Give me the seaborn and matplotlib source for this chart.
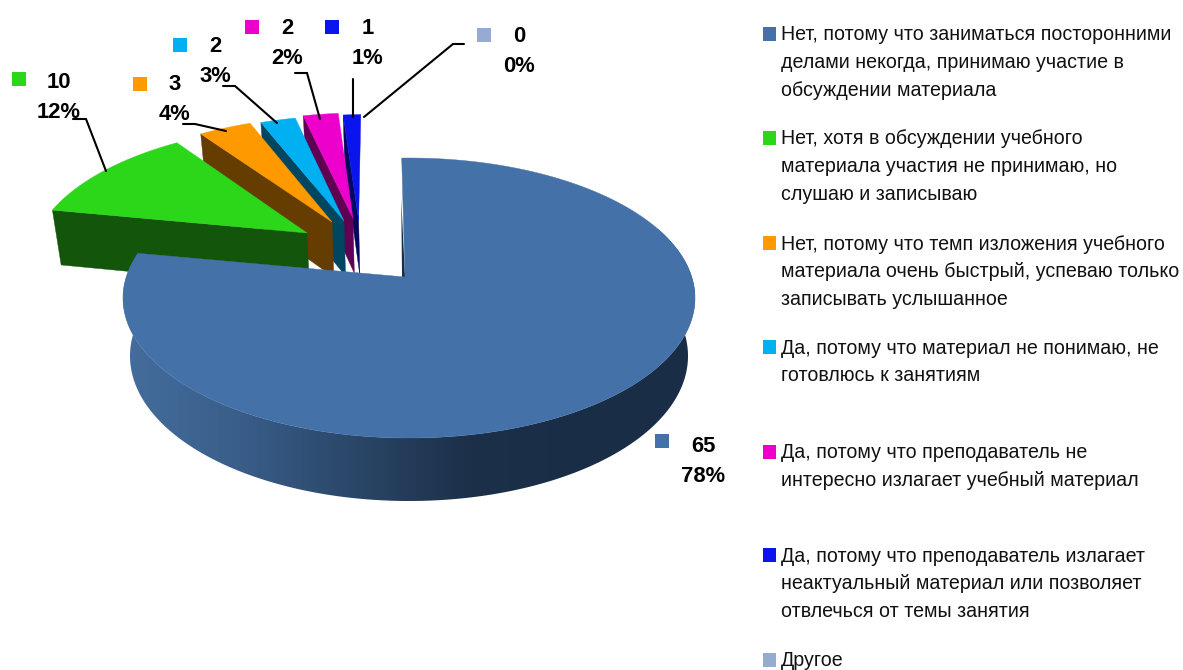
import numpy as np
import pandas as pd
import matplotlib
matplotlib.use("Agg")
import matplotlib.pyplot as plt
from matplotlib.patches import Polygon
import seaborn as sns

# ---- data
values = [65, 10, 3, 2, 2, 1, 0]
percent_labels = ["78%", "12%", "4%", "3%", "2%", "1%", "0%"]
categories = [
    "Нет, потому что заниматься посторонними\nделами некогда, принимаю участие в\nобсуждении материала",
    "Нет, хотя в обсуждении учебного\nматериала участия не принимаю, но\nслушаю и записываю",
    "Нет, потому что темп изложения учебного\nматериала очень быстрый, успеваю только\nзаписывать услышанное",
    "Да, потому что материал не понимаю, не\nготовлюсь к занятиям",
    "Да, потому что преподаватель не\nинтересно излагает учебный материал",
    "Да, потому что преподаватель излагает\nнеактуальный материал или позволяет\nотвлечься от темы занятия",
    "Другое",
]
# ---- styles / layout
top_colors = ["#4472A8", "#2CD719", "#FF9900", "#00B0F0", "#EE00CC", "#0A14EC", "#95ABD2"]
wall_colors = ["#1A2D47", "#14550C", "#663D00", "#004660", "#5F0052", "#04085E", "#95ABD2"]
explode_u = [0.0, -0.379, -0.290, -0.245, -0.212, -0.190, 0]
explode_v = [0.0, -0.338, -0.428, -0.436, -0.461, -0.444, 0]
apex_shift_u = -0.014
rotation = [-1.7, -1, -1, -1, -1, -1, -1]
label_xy = [(703, 445), (59, 81), (175, 84), (215, 46), (287, 28), (368, 28), (519, 35)]
swatch_xy = [(662, 441), (19, 79), (140, 84), (180, 45), (252, 27), (332, 27), (484, 35)]
leader_x = [None, [73, 86, 106], [183, 195, 226], [223, 235, 277], [295, 307, 320], [353, 353], [464, 453, 364]]
leader_y = [None, [119, 119, 171], [124, 124, 131], [86, 86, 123], [73, 73, 119], [79, 117], [44, 44, 117]]
legend_y = [34, 138, 243, 347, 452, 555, 660]

sns.set_theme(style="white")
plt.rcParams["font.family"] = ["Liberation Sans", "DejaVu Sans"]
LABEL_SIZE = 15.8

fig = plt.figure(figsize=(11.83, 6.70), dpi=100)
ax = fig.add_axes([0, 0, 1, 1])
ax.set_xlim(0, 1183)
ax.set_ylim(670, 0)
ax.axis("off")

A = -0.15
S = np.sqrt(1 - A * A)
LEVELS = {0: (409, 286, 298, 140), 1: (409, 279, 356, 145)}


def project(u, v, level=0):
    cx, rx, cy, ry = LEVELS[level]
    den = 1 + A * v
    return cx + rx * u * S / den, cy + ry * (v + A) / den


def rim(deg, du, dv, rot, level=0):
    t = np.radians(np.asarray(deg) + rot)
    return project(np.sin(t) + du, -np.cos(t) + dv, level)


total = sum(values)
edges = np.cumsum([0] + values) / total * 360
order = [5, 4, 3, 2, 1, 0]

wall_cmap = sns.blend_palette(["#456E9E", "#3A5F8B", "#2B4769", "#1C3049", "#1A2D47", "#1A2D47"], as_cmap=True)

for i in order:
    a0, a1 = edges[i], edges[i + 1]
    du, dv, rot = explode_u[i], explode_v[i], rotation[i]
    arc = np.linspace(a0, a1, max(3, int((a1 - a0) * 2)))
    pu = du + (apex_shift_u if i == 0 else 0)
    ax_t, ay_t = project(pu, dv, 0)
    ax_b, ay_b = project(pu, dv, 1)
    xt, yt = rim(arc, du, dv, rot, 0)
    if i == 0:
        # outer side wall with a left-to-right shade, painted as a clipped gradient
        ang = np.arange(70, a1 + 0.5, 0.5)
        xa, ya = rim(ang, du, dv, rot, 0)
        xb, yb = rim(ang, du, dv, rot, 1)
        wall = Polygon(np.c_[np.r_[xa, xb[::-1]], np.r_[ya, yb[::-1]]], closed=True,
                       transform=ax.transData, facecolor="none", edgecolor="none")
        ax.add_patch(wall)
        grad = np.linspace(0, 1, 256).reshape(1, -1)
        im = ax.imshow(grad, cmap=wall_cmap, aspect="auto", extent=(115, 705, 520, 200),
                       vmin=0, vmax=1, zorder=1, interpolation="bilinear")
        im.set_clip_path(wall)
        # sliver of the cut face beside 12 o'clock
        x0, y0 = rim(a0, du, dv, rot, 0)
        ax.fill([x0 - 0.5, ax_t - 3, ax_t], [y0 + 40, ay_t, ay_t], color=wall_colors[0], lw=0, zorder=1)
    else:
        xl_t, yl_t = rim(a0, du, dv, rot, 0)
        xl_b, yl_b = rim(a0, du, dv, rot, 1)
        ax.fill([xl_t, ax_t, ax_b, xl_b], [yl_t, ay_t, ay_b, yl_b], color=wall_colors[i], lw=0.3, zorder=1)
    ax.fill(np.r_[ax_t, xt], np.r_[ay_t, yt], color=top_colors[i], lw=0.3, zorder=1)

# leader lines
for lx, ly in zip(leader_x, leader_y):
    if lx is not None:
        ax.plot(lx, ly, color="black", lw=1.5, solid_joinstyle="miter", zorder=3)

# value labels
for v, p, (x, y) in zip(values, percent_labels, label_xy):
    ax.text(x, y + 1, str(v), ha="center", va="center", fontsize=LABEL_SIZE,
            fontweight="bold", color="black", zorder=4)
    ax.text(x, y + 31, p, ha="center", va="center", fontsize=LABEL_SIZE,
            fontweight="bold", color="black", zorder=4)

swatches = pd.DataFrame({
    "x": [c[0] for c in swatch_xy],
    "y": [c[1] for c in swatch_xy],
    "k": range(len(swatch_xy)),
})
sns.scatterplot(data=swatches, x="x", y="y", hue="k", palette=top_colors, marker="s", s=100,
                linewidth=0, legend=False, ax=ax, zorder=4, clip_on=False)

# legend at right
keys = pd.DataFrame({"x": [769.5] * len(legend_y), "y": legend_y, "k": range(len(legend_y))})
sns.scatterplot(data=keys, x="x", y="y", hue="k", palette=top_colors, marker="s", s=88,
                linewidth=0, legend=False, ax=ax, zorder=4, clip_on=False)
for text, y in zip(categories, legend_y):
    for j, line in enumerate(text.split("\n")):
        ax.text(781, y + 1 + j * 27.6, line, ha="left", va="center", fontsize=14.15, color="#111111", zorder=4)

ax.set_xlim(0, 1183)
ax.set_ylim(670, 0)
ax.set_xlabel("")
ax.set_ylabel("")
fig.savefig("out.png", dpi=100)
